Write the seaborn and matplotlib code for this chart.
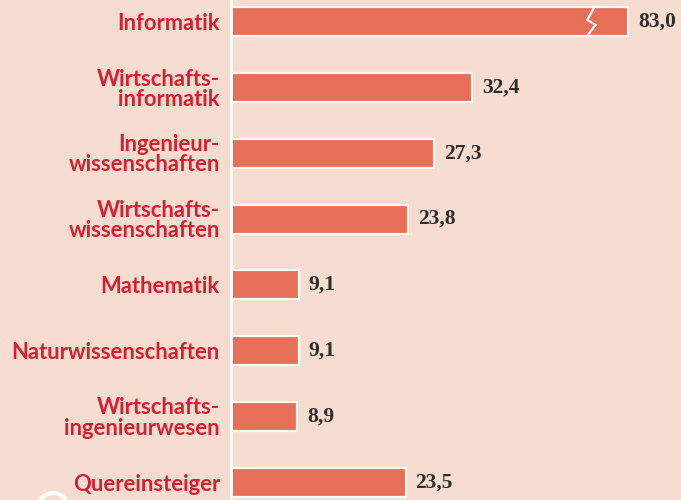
import numpy as np
import pandas as pd
import matplotlib
matplotlib.use("Agg")
import matplotlib.pyplot as plt
import seaborn as sns
from matplotlib.patches import Ellipse

categories = ["Informatik", "Wirtschafts-\ninformatik", "Ingenieur-\nwissenschaften",
              "Wirtschafts-\nwissenschaften", "Mathematik", "Naturwissenschaften",
              "Wirtschafts-\ningenieurwesen", "Quereinsteiger"]
values = [83.0, 32.4, 27.3, 23.8, 9.1, 9.1, 8.9, 23.5]
value_labels = ["83,0", "32,4", "27,3", "23,8", "9,1", "9,1", "8,9", "23,5"]
display_cap = 53.4  # broken axis: longest bar drawn shortened

BG = "#f7dcd0"
BAR = "#e57057"
RED = "#d42030"
DARK = "#2e2e2e"

sns.set_theme(style="white")
plt.rcParams["font.family"] = ["Lato", "DejaVu Sans"]

df = pd.DataFrame({"cat": categories, "val": np.minimum(values, display_cap)})

fig = plt.figure(figsize=(6.81, 5.0), dpi=100, facecolor=BG)
ax = fig.add_axes([231 / 681, 0, 1 - 231 / 681, 1])
ax.set_facecolor(BG)

sns.barplot(data=df, y="cat", x="val", orient="h", color=BAR, saturation=1,
            width=0.44, edgecolor="white", linewidth=1.6, ax=ax, zorder=3)

ax.set_xlim(0, 60.5)
ax.set_ylim(7.27, -0.33)
ax.set_xlabel("")
ax.set_ylabel("")
ax.set_xticks([])
for s in ["top", "right", "bottom"]:
    ax.spines[s].set_visible(False)
ax.spines["left"].set_color("white")
ax.spines["left"].set_linewidth(2)
ax.spines["left"].set_zorder(4)

ax.tick_params(axis="y", length=0, pad=8)
for lab in ax.get_yticklabels():
    lab.set_color(RED)
    lab.set_fontweight("bold")
    lab.set_fontsize(15.8)
    lab.set_linespacing(0.95)

for i, (v, t) in enumerate(zip(df["val"], value_labels)):
    ax.annotate(t, xy=(v, i), xytext=(7, 0), textcoords="offset points",
                va="center", ha="left", fontsize=15.5, fontweight="bold",
                color=DARK, family=["Liberation Serif", "DejaVu Serif"])

# break mark on the truncated bar
bx = [48.9, 47.9, 49.0, 47.8]
by = [-0.23, -0.03, 0.05, 0.23]
ax.plot(bx, by, color="white", lw=1.6, zorder=5, solid_joinstyle="miter")

# partial white circle at bottom-left
fig.patches.append(Ellipse((53 / 681, -8 / 500), 30 / 681, 30 / 500,
                           transform=fig.transFigure,
                           facecolor="none", edgecolor="white", lw=3))

fig.savefig("out.png", dpi=100, facecolor=BG)
